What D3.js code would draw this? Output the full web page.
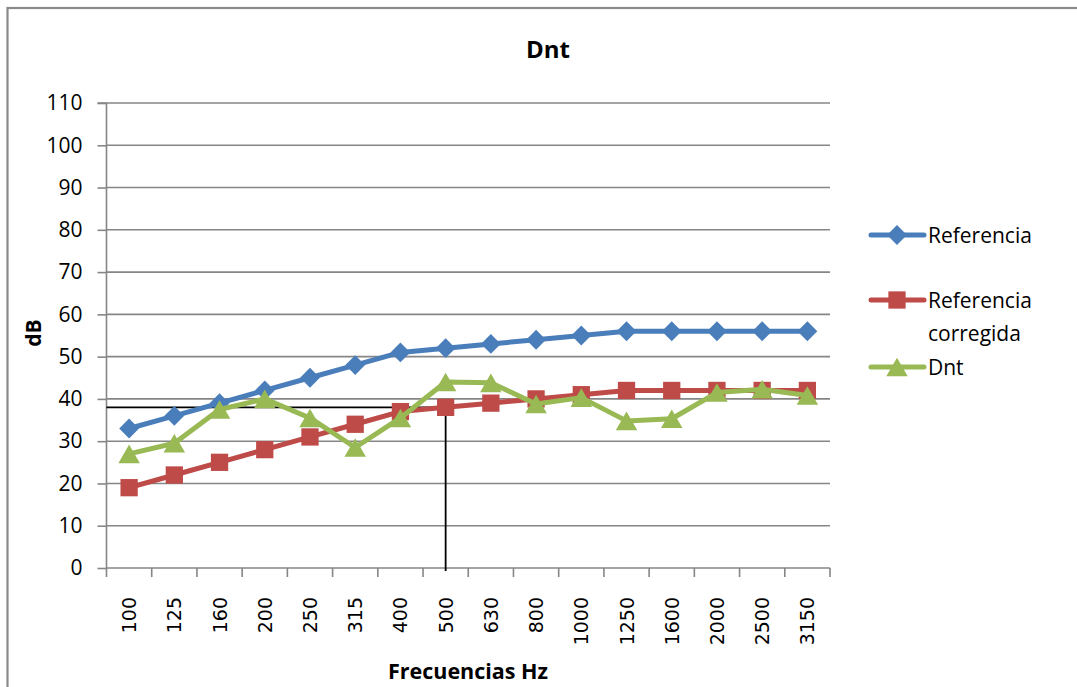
<!DOCTYPE html>
<html>
<head>
<meta charset="utf-8">
<script src="https://cdn.jsdelivr.net/npm/d3@7"></script>
<style>
  html, body { margin: 0; padding: 0; background: #fff; }
  svg { display: block; }
</style>
</head>
<body>
<svg id="chart" width="1077" height="687"></svg>
<script>
// Third-octave frequencies (Hz)
const frequencies = ["100","125","160","200","250","315","400","500","630","800","1000","1250","1600","2000","2500","3150"];
// Reference curve
const referencia = [33,36,39,42,45,48,51,52,53,54,55,56,56,56,56,56];
// Shifted reference curve
const referenciaCorregida = [19,22,25,28,31,34,37,38,39,40,41,42,42,42,42,42];
// Measured standardized level difference
const dnt = [27,29.5,37.5,40,35.5,28.5,35.5,44,43.8,38.8,40.3,34.8,35.3,41.5,42.3,40.8];
const yTicks = [0,10,20,30,40,50,60,70,80,90,100,110];
// Reading at 500 Hz highlighted with a guide line
const guideFreq = "500";

const series = [
  { name: "Referencia", values: referencia, color: "#4a7ebb", symbol: d3.symbolDiamond2, size: 250, dy: 0 },
  { name: "Referencia corregida", values: referenciaCorregida, color: "#be4b48", symbol: d3.symbolSquare2, size: 380, dy: 0 },
  { name: "Dnt", values: dnt, color: "#98b954", symbol: d3.symbolTriangle2, size: 330,
    // centre the triangle's bounding box on the point
    dy: Math.sqrt(330) * 0.6824 / 4 }
];

const svg = d3.select("#chart");
const font = "'Open Sans', 'Noto Sans', sans-serif";
const gridColor = "#868686";

// Outer chart frame
svg.append("rect").attr("x", 7.5).attr("y", 8).attr("width", 1100).attr("height", 700)
  .attr("fill", "none").attr("stroke", "#8a8a8a").attr("stroke-width", 2.2);

const plotLeft = 106.5, plotRight = 830, plotTop = 103, plotBottom = 568;
const x = d3.scaleBand().domain(frequencies).range([plotLeft, plotRight]).padding(0);
const y = d3.scaleLinear().domain([0, 110]).range([plotBottom, plotTop]);
const cx = f => x(f) + x.bandwidth() / 2;

// Horizontal gridlines
svg.append("g").selectAll("line").data(yTicks.filter(t => t > 0)).join("line")
  .attr("x1", plotLeft).attr("x2", plotRight)
  .attr("y1", d => y(d)).attr("y2", d => y(d))
  .attr("stroke", gridColor).attr("stroke-width", 1.6);

// Y axis
const yAxis = svg.append("g").attr("transform", `translate(${plotLeft},0)`)
  .call(d3.axisLeft(y).tickValues(yTicks).tickSize(9).tickPadding(15));
yAxis.select(".domain").attr("stroke", gridColor).attr("stroke-width", 1.6).attr("d", `M-9,${plotTop}H0V${plotBottom}`);
yAxis.selectAll(".tick line").attr("stroke", gridColor).attr("stroke-width", 1.6);
yAxis.selectAll(".tick text").attr("font-family", font).attr("font-size", 21).attr("fill", "#000");

// X axis: tick marks on category boundaries, labels rotated
const xg = svg.append("g");
xg.append("line").attr("x1", plotLeft).attr("x2", plotRight).attr("y1", plotBottom).attr("y2", plotBottom)
  .attr("stroke", gridColor).attr("stroke-width", 1.6);
const bounds = frequencies.map(f => x(f)).concat([plotRight]);
xg.selectAll("line.tk").data(bounds).join("line").attr("class", "tk")
  .attr("x1", d => d).attr("x2", d => d).attr("y1", plotBottom).attr("y2", plotBottom + 9)
  .attr("stroke", gridColor).attr("stroke-width", 1.6);
xg.selectAll("text").data(frequencies).join("text")
  .attr("transform", d => `translate(${cx(d) + 7},597) rotate(-90)`)
  .attr("text-anchor", "end")
  .attr("font-family", "'DejaVu Sans', sans-serif").attr("font-size", 19)
  .text(d => d);

// Guide line: 500 Hz reading of the shifted reference
const gi = frequencies.indexOf(guideFreq);
const gv = referenciaCorregida[gi];
svg.append("path")
  .attr("d", `M${plotLeft},${y(gv)}H${cx(guideFreq)}V${plotBottom + 3}`)
  .attr("fill", "none").attr("stroke", "#000").attr("stroke-width", 1.8);

// Series lines and markers
const line = d3.line().x((d, i) => cx(frequencies[i])).y(d => y(d));
series.forEach(s => {
  const g = svg.append("g");
  g.append("path").datum(s.values).attr("d", line)
    .attr("fill", "none").attr("stroke", s.color).attr("stroke-width", 5)
    .attr("stroke-linejoin", "round");
  g.selectAll("path.m").data(s.values).join("path").attr("class", "m")
    .attr("d", d3.symbol().type(s.symbol).size(s.size))
    .attr("transform", (d, i) => `translate(${cx(frequencies[i])},${y(d) + s.dy})`)
    .attr("fill", s.color);
});

// Title and axis titles
svg.append("text").attr("x", 548).attr("y", 58).attr("text-anchor", "middle")
  .attr("font-family", font).attr("font-weight", "bold").attr("font-size", 24).text("Dnt");
svg.append("text").attr("transform", "translate(41,333) rotate(-90)").attr("text-anchor", "middle")
  .attr("font-family", font).attr("font-weight", "bold").attr("font-size", 21).text("dB");
svg.append("text").attr("x", 468).attr("y", 679).attr("text-anchor", "middle")
  .attr("font-family", font).attr("font-weight", "bold").attr("font-size", 21.5).text("Frecuencias Hz");

// Legend
const legendRows = [
  { s: series[0], y: 235, lines: ["Referencia"] },
  { s: series[1], y: 300, lines: ["Referencia", "corregida"] },
  { s: series[2], y: 367, lines: ["Dnt"] }
];
const lg = svg.append("g");
legendRows.forEach(r => {
  lg.append("line").attr("x1", 871).attr("x2", 924).attr("y1", r.y).attr("y2", r.y)
    .attr("stroke", r.s.color).attr("stroke-width", 5).attr("stroke-linecap", "round");
  lg.append("path").attr("d", d3.symbol().type(r.s.symbol).size(r.s.size))
    .attr("transform", `translate(897,${r.y + r.s.dy})`).attr("fill", r.s.color);
  r.lines.forEach((t, k) => {
    lg.append("text").attr("x", 928).attr("y", r.y + 8 + k * 33)
      .attr("font-family", font).attr("font-size", 21).text(t);
  });
});
</script>
</body>
</html>
